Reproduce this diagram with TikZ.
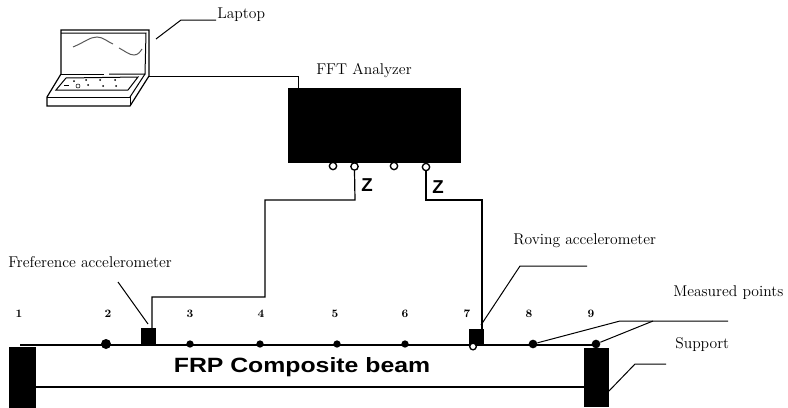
\documentclass[tikz,border=0pt]{standalone}
\usepackage{fontspec}
\setsansfont{Liberation Sans}
\usepackage{tikz}
\usetikzlibrary{positioning}
\tikzset{lb/.style={font=\fontsize{11.7}{13}\selectfont,inner sep=0pt,anchor=west},
 nm/.style={font=\fontsize{8.5}{10}\selectfont\bfseries,inner sep=0pt},
 blk/.style={draw=black,fill=black,inner sep=0pt,line width=0pt},
 pt/.style={circle,fill=black,inner sep=0pt,minimum size=7.5pt},
 pm/.style={circle,fill=black,inner sep=0pt,minimum size=5.5pt},
 port/.style={circle,draw,fill=white,line width=1pt,inner sep=0pt,minimum size=5.5pt},
 ln/.style={line width=.75pt},
 th/.style={line width=1.5pt},
 zz/.style={font=\sffamily\bfseries\fontsize{14}{15}\selectfont,inner sep=0pt}}
\begin{document}
\begin{tikzpicture}[x=.75pt,y=-.75pt]
\useasboundingbox (0,0) rectangle (788,407);
% analyzer and ports
\node[blk,minimum width=129pt,minimum height=55pt](fft) at (374,125.5){};
\node[lb](fftl) at (316,71){FFT Analyzer};
\node[port](p1) at (333,166){};
\node[port](p2) at (354.5,166.5){};
\node[port](p3) at (394,166){};
\node[port](p4) at (426,167){};
\node[zz](z1) at (367,185){Z};
\node[zz](z2) at (438,187){Z};
% laptop
\coordinate(a) at (61,30);\coordinate(b) at (149,30);\coordinate(c) at (149,76);\coordinate(d) at (61,74);
\coordinate(e) at (47,97);\coordinate(f) at (47,106);\coordinate(g) at (130,106);\coordinate(h) at (130,97);
\draw[line width=.9pt](d)--(a)--(b)--(c)--(g)--(f)--(e)--(d);
\draw[ln](61,33)--(146,33)--(145,74)--(109,74);\draw[ln](61,74)--(104,74);
\draw[ln](e)--(h)--(g);\draw[ln](h)--(145,74);
\draw[ln](56,90)--(66,78)--(138,77)--(128,90)--cycle;
\draw[ln,gray!70!black](73,47)..controls(85,42)and(90,37).. (97,37)..controls(103,37)and(108,42)..(113,44);
\draw[ln,gray!70!black](119,48)..controls(125,51)and(129,55)..(134,55)..controls(138,55)and(140,52)..(142,49);
\node[pm,minimum size=1.5pt](k1) at (74,81){};\node[pm,minimum size=1.5pt](k2) at (86,80){};
\node[pm,minimum size=1.5pt](k3) at (100,80){};\node[pm,minimum size=1.5pt](k4) at (115,80){};
\node[port,minimum size=3pt,line width=.4pt](k5) at (78,86){};\node[pm,minimum size=1.5pt](k6) at (88,85){};
\node[pm,minimum size=1.5pt](k7) at (103,86){};\node[pm,minimum size=1.5pt](k8) at (116,86){};
\draw[line width=1pt](64,85.5)--(69,85.5);
\node[lb](lap) at (217,15){Laptop};
\coordinate(l1) at (156,39);\coordinate(l2) at (181,20);\coordinate(l3) at (216,20);
\draw[ln](l1)--(l2)--(l3);
\coordinate(u1) at (298,76);
\draw[ln](c)--(u1)--(fft.north -| u1);
% beam and supports
\node[blk,minimum width=20pt,minimum height=45pt](sl) at (22.5,377){};
\node[blk,minimum width=17.5pt,minimum height=44pt](sr) at (596.5,377.5){};
\node[blk,minimum width=10pt,minimum height=12.5pt](ra) at (148.5,336.5){};
\node[blk,minimum width=10pt,minimum height=12pt](ro) at (476.5,337){};
\coordinate(t1) at (20,345);\coordinate(t2) at (598,345);
\draw[th](t1)--(t2);
\draw[th](sl.east |- 0,387)--(sr.west |- 0,387);
\node[font=\sffamily\bfseries\fontsize{15.5}{17}\selectfont\addfontfeature{FakeStretch=1.2},inner sep=0pt](beam) at (302,367){FRP Composite beam};
% measured points
\node[pt](m2) at (106,344){};\node[pm](m3) at (190,344){};\node[pm](m4) at (260,344){};
\node[pm](m5) at (337,344){};\node[pm](m6) at (405,344){};\node[port,minimum size=5pt](m7) at (473,346.5){};
\node[pt,minimum size=6.5pt](m8) at (533,344){};\node[pt,minimum size=6.5pt](m9) at (596,344){};
\node[nm](n1) at (19,314){1};\node[nm](n2) at (108,314){2};\node[nm](n3) at (190,314){3};
\node[nm](n4) at (261,314){4};\node[nm](n5) at (335,314){5};\node[nm](n6) at (405,314){6};
\node[nm](n7) at (467,314){7};\node[nm](n8) at (529,314){8};\node[nm](n9) at (591,314){9};
% cables
\coordinate(c1) at (355,200);\coordinate(c2) at (265,200);\coordinate(c3) at (265,297);\coordinate(c4) at (152,297);
\coordinate(c5) at (426,200);\coordinate(c6) at (482,200);
\draw[line width=.9pt](p2.south)--(c1)--(c2)--(c3)--(c4)--(c4 |- ra.north);
\draw[line width=.9pt](p4.south)--(c5)--(c6)--(c6 |- ro.north);
% labels and leaders
\node[lb](refl) at (8,262){Freference accelerometer};
\coordinate(r1) at (118,282);\coordinate(r2) at (148,324);
\draw[ln](r1)--(r2);
\node[lb](rovl) at (513,241){Roving accelerometer};
\coordinate(v1) at (587,266);\coordinate(v2) at (520,266);\coordinate(v3) at (481,325);
\draw[ln](v1)--(v2)--(v3);
\node[lb](mpl) at (673,293){Measured points};
\coordinate(q1) at (728,321);\coordinate(q2) at (620,321);\coordinate(q3) at (653,321);
\draw[ln](q1)--(q2)--(m8);\draw[ln](q3)--(m9);
\node[lb](supl) at (675,345){Support};
\coordinate(s1) at (666,364);\coordinate(s2) at (635,364);\coordinate(s3) at (608,392);
\draw[ln](s1)--(s2)--(s3);
\end{tikzpicture}
\end{document}
